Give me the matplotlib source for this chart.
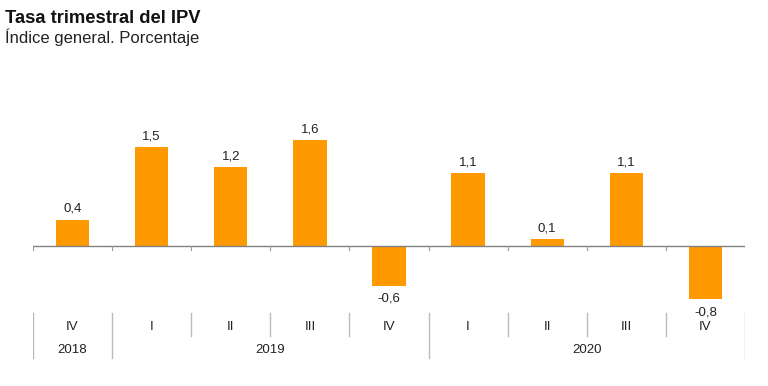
import matplotlib.pyplot as plt

plt.rcParams["font.family"] = ["Liberation Sans", "DejaVu Sans"]

quarters = ["IV", "I", "II", "III", "IV", "I", "II", "III", "IV"]
years = ["2018", "2019", "2020"]
year_spans = [(0, 0), (1, 4), (5, 8)]
values = [0.4, 1.5, 1.2, 1.6, -0.6, 1.1, 0.1, 1.1, -0.8]
labels = ["0,4", "1,5", "1,2", "1,6", "-0,6", "1,1", "0,1", "1,1", "-0,8"]

bar_color = "#FF9900"
line_gray = "#BBBBBB"

W, H = 768, 386
fig = plt.figure(figsize=(W / 100, H / 100), dpi=100)

# axes placed in pixel terms: x 33..745, zero line at y=246, 66 px per unit
px_per_unit = 66.0
zero_y = 246
top_px, bot_px = 100, 362
ax = fig.add_axes([33 / W, 1 - bot_px / H, (745 - 33) / W, (bot_px - top_px) / H])
ax.set_xlim(-0.5, len(values) - 0.5)
ax.set_ylim(-(bot_px - zero_y) / px_per_unit, (zero_y - top_px) / px_per_unit)
ax.axis("off")


def py(p):
    return -(p - zero_y) / px_per_unit


x = list(range(len(values)))
ax.bar(x, values, width=0.42, color=bar_color, zorder=2)

# zero line and small ticks
ax.axhline(0, color="#808080", lw=1.0, zorder=3)
for b in range(len(values) + 1):
    ax.plot([b - 0.5, b - 0.5], [0, py(250)], color="#999999", lw=0.8, zorder=3)

for xi, v, lab in zip(x, values, labels):
    if v >= 0:
        ax.text(xi, v + 0.07, lab, ha="center", va="bottom", fontsize=9.5, color="#222222")
    else:
        ax.text(xi, v - 0.11, lab, ha="center", va="top", fontsize=9.5, color="#222222")

# category axis below
for xi, q in zip(x, quarters):
    ax.text(xi, py(327), q, ha="center", va="center", fontsize=9.5, color="#222222")

year_bounds = set()
for (a, b) in year_spans:
    year_bounds.add(a - 0.5)
    year_bounds.add(b + 0.5)
for b in range(len(values) + 1):
    bx = b - 0.5
    y_end = py(358) if bx in year_bounds else py(336)
    ax.plot([bx, bx], [py(313), y_end], color=line_gray, lw=1.0)

for yname, (a, b) in zip(years, year_spans):
    ax.text((a + b) / 2, py(350), yname, ha="center", va="center", fontsize=9.5, color="#222222")

fig.text(5 / W, 1 - 23 / H, "Tasa trimestral del IPV", fontsize=13.2, fontweight="bold",
         ha="left", va="baseline", color="#111111")
fig.text(5 / W, 1 - 43 / H, "Índice general. Porcentaje", fontsize=12.0,
         ha="left", va="baseline", color="#222222")

fig.savefig("out.png", dpi=100)
